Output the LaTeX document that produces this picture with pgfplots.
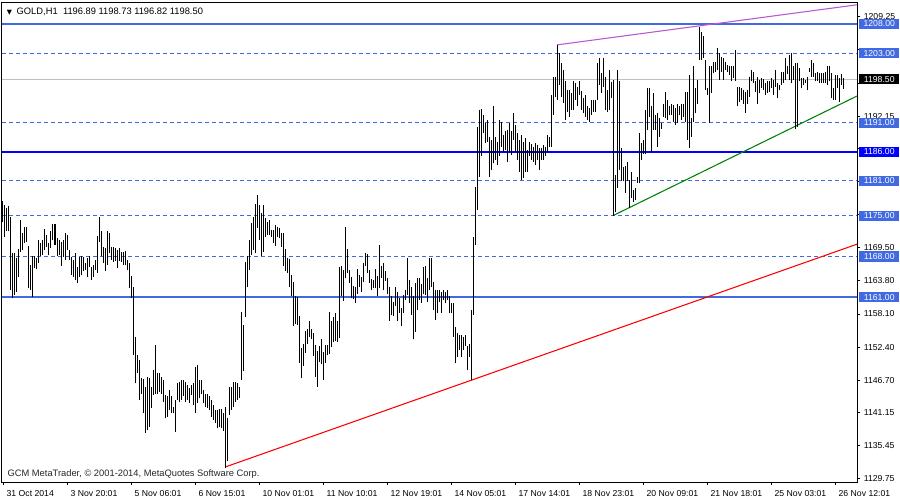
\documentclass[border=0pt]{standalone}
\usepackage{pgfplots}
\usepackage{pgfplotstable}
\usepackage{fontspec}
\pgfplotsset{compat=1.18}
\setmainfont{Liberation Sans}
\newfontfamily\dejavu{DejaVu Sans}

\definecolor{mtblue}{RGB}{65,105,225}
\definecolor{mtpure}{RGB}{0,0,255}
\definecolor{mtsilver}{RGB}{192,192,192}
\definecolor{mtgreen}{RGB}{0,128,0}
\definecolor{mtviolet}{RGB}{186,85,211}

% hourly bars: index, high, low
\pgfplotstableread{
i hi lo
0 1177.6 1174.0
1 1176.85 1171.4
2 1176.3 1172.4
3 1176.7 1172.3
4 1174.8 1162.2
5 1168.5 1160.8
6 1168.6 1161.4
7 1167.7 1161.9
8 1169.2 1164.5
9 1174.3 1168.8
10 1172.0 1169.1
11 1173.1 1170.3
12 1173.1 1170.5
13 1169.8 1162.5
14 1166.5 1162.2
15 1168.1 1161.0
16 1168.0 1166.0
17 1167.7 1165.8
18 1170.8 1166.8
19 1170.3 1168.0
20 1170.8 1168.2
21 1172.7 1169.1
22 1171.7 1169.7
23 1170.3 1168.2
24 1172.3 1169.4
25 1173.5 1170.8
26 1173.5 1170.0
27 1171.1 1168.0
28 1170.9 1168.2
29 1170.5 1166.4
30 1170.8 1167.9
31 1172.1 1167.4
32 1171.7 1169.1
33 1169.1 1167.4
34 1167.9 1164.8
35 1167.4 1164.5
36 1168.5 1163.9
37 1166.2 1163.4
38 1167.9 1164.5
39 1168.0 1164.8
40 1167.9 1165.4
41 1166.9 1165.7
42 1167.7 1164.5
43 1168.0 1166.2
44 1166.2 1163.9
45 1166.5 1164.5
46 1167.4 1165.7
47 1171.5 1165.1
48 1174.8 1170.5
49 1172.3 1168.0
50 1169.7 1166.8
51 1169.4 1165.5
52 1172.3 1166.5
53 1172.1 1168.5
54 1169.7 1167.4
55 1169.7 1167.1
56 1169.4 1167.2
57 1169.1 1166.0
58 1169.4 1167.2
59 1168.8 1167.1
60 1168.8 1166.5
61 1169.0 1166.5
62 1167.4 1165.7
63 1166.8 1162.5
64 1164.6 1160.8
65 1162.8 1151.0
66 1154.2 1146.15
67 1151.0 1147.9
68 1150.2 1143.3
69 1147.0 1144.4
70 1146.9 1141.0
71 1145.6 1137.55
72 1147.3 1138.1
73 1147.0 1138.7
74 1145.6 1141.85
75 1148.45 1144.15
76 1152.75 1144.4
77 1147.9 1144.4
78 1147.9 1144.7
79 1147.3 1144.4
80 1146.7 1143.0
81 1144.15 1140.1
82 1144.0 1140.4
83 1145.0 1141.55
84 1143.9 1141.0
85 1142.1 1141.0
86 1143.3 1137.8
87 1146.15 1143.3
88 1146.4 1143.0
89 1146.7 1143.3
90 1146.7 1143.9
91 1146.4 1143.0
92 1145.9 1143.3
93 1145.3 1142.7
94 1145.9 1144.15
95 1146.15 1142.4
96 1149.0 1141.0
97 1149.3 1142.7
98 1146.7 1143.6
99 1146.7 1144.4
100 1145.0 1142.7
101 1144.4 1142.1
102 1144.4 1141.85
103 1143.9 1141.55
104 1143.3 1140.4
105 1142.4 1139.85
106 1141.55 1139.3
107 1141.55 1138.4
108 1141.7 1138.7
109 1141.7 1138.4
110 1141.0 1138.0
111 1142.0 1131.6
112 1140.2 1132.7
113 1145.6 1140.7
114 1145.6 1141.55
115 1146.4 1142.1
116 1146.4 1143.0
117 1146.15 1143.3
118 1145.6 1143.6
119 1158.5 1146.7
120 1156.2 1148.2
121 1167.1 1157.6
122 1168.0 1162.8
123 1170.8 1165.7
124 1173.7 1168.2
125 1174.8 1169.1
126 1177.1 1168.5
127 1178.6 1172.8
128 1176.85 1170.8
129 1175.4 1168.0
130 1176.85 1168.8
131 1174.6 1171.4
132 1174.0 1171.7
133 1174.3 1171.7
134 1172.5 1171.4
135 1172.5 1170.25
136 1173.4 1169.8
137 1173.1 1171.4
138 1172.8 1171.1
139 1172.0 1169.7
140 1172.0 1166.35
141 1169.2 1165.4
142 1167.7 1165.2
143 1167.55 1162.8
144 1164.8 1161.2
145 1163.65 1156.0
146 1161.2 1156.4
147 1160.95 1156.2
148 1157.75 1149.7
149 1152.2 1147.0
150 1152.9 1149.2
151 1155.2 1151.3
152 1155.5 1153.0
153 1156.9 1154.1
154 1155.45 1153.7
155 1154.75 1150.85
156 1152.75 1147.2
157 1151.8 1145.6
158 1152.5 1149.9
159 1153.7 1149.4
160 1151.6 1146.8
161 1152.75 1149.6
162 1152.75 1151.0
163 1158.5 1151.2
164 1156.95 1152.35
165 1157.5 1153.3
166 1158.3 1153.4
167 1156.8 1153.3
168 1166.1 1153.9
169 1166.35 1161.1
170 1165.65 1160.4
171 1173.1 1164.2
172 1169.3 1165.2
173 1165.65 1163.4
174 1164.5 1160.8
175 1162.9 1160.6
176 1162.8 1159.9
177 1165.9 1161.6
178 1164.8 1162.7
179 1164.5 1161.9
180 1166.9 1163.65
181 1168.6 1166.35
182 1168.4 1165.2
183 1165.65 1163.5
184 1164.05 1162.3
185 1163.9 1162.5
186 1165.8 1162.5
187 1164.6 1161.1
188 1169.95 1162.5
189 1166.35 1164.2
190 1166.9 1162.2
191 1165.55 1163.8
192 1164.2 1161.6
193 1162.7 1156.9
194 1161.2 1157.9
195 1160.2 1157.7
196 1162.8 1159.5
197 1161.9 1156.8
198 1160.8 1158.3
199 1159.1 1156.0
200 1161.4 1158.2
201 1162.2 1160.5
202 1167.8 1161.4
203 1163.9 1160.0
204 1162.8 1157.9
205 1161.1 1153.7
206 1163.4 1155.0
207 1164.2 1158.8
208 1164.2 1160.5
209 1163.25 1160.0
210 1166.2 1161.6
211 1166.35 1161.4
212 1164.2 1160.2
213 1167.7 1162.2
214 1167.7 1162.8
215 1163.65 1158.8
216 1162.3 1157.05
217 1162.2 1158.2
218 1162.3 1160.2
219 1161.9 1158.2
220 1162.2 1160.5
221 1161.8 1159.9
222 1162.2 1160.5
223 1161.1 1158.2
224 1160.0 1158.2
225 1160.0 1154.2
226 1155.9 1149.6
227 1154.8 1150.7
228 1154.5 1151.9
229 1154.5 1150.7
230 1154.2 1151.9
231 1154.5 1152.5
232 1152.5 1148.45
233 1153.0 1150.7
234 1158.8 1146.7
235 1171.4 1157.9
236 1180.0 1170.0
237 1190.3 1176.0
238 1193.2 1181.7
239 1193.3 1185.2
240 1192.3 1189.2
241 1190.9 1187.5
242 1191.5 1187.75
243 1188.6 1181.7
244 1188.0 1182.9
245 1193.8 1184.0
246 1188.6 1184.6
247 1187.75 1183.7
248 1191.5 1185.2
249 1191.2 1186.9
250 1188.9 1186.0
251 1189.5 1186.3
252 1189.75 1184.3
253 1190.9 1186.0
254 1189.5 1185.45
255 1192.6 1188.0
256 1190.6 1186.0
257 1189.2 1184.6
258 1188.0 1182.6
259 1188.9 1181.15
260 1187.75 1181.45
261 1188.3 1182.6
262 1186.3 1182.6
263 1187.75 1185.2
264 1187.35 1184.6
265 1186.9 1184.3
266 1187.5 1183.7
267 1187.2 1184.6
268 1186.6 1182.9
269 1186.6 1184.6
270 1187.2 1184.6
271 1186.9 1185.2
272 1188.9 1186.0
273 1188.6 1186.9
274 1195.8 1186.9
275 1198.9 1192.3
276 1198.9 1195.5
277 1204.4 1194.9
278 1203.0 1197.5
279 1201.2 1195.5
280 1200.1 1194.35
281 1198.1 1191.5
282 1196.6 1192.9
283 1196.6 1192.05
284 1196.1 1193.2
285 1198.1 1193.2
286 1197.8 1194.9
287 1197.2 1193.8
288 1198.1 1195.8
289 1196.4 1193.2
290 1195.2 1192.6
291 1195.8 1192.05
292 1193.8 1191.5
293 1193.5 1191.2
294 1194.9 1192.3
295 1194.9 1192.9
296 1194.9 1192.9
297 1201.2 1194.9
298 1202.1 1197.5
299 1199.5 1196.1
300 1202.1 1197.2
301 1198.9 1193.2
302 1196.6 1192.9
303 1200.1 1193.2
304 1198.0 1195.2
305 1198.4 1174.95
306 1182.0 1175.7
307 1200.1 1179.7
308 1198.2 1182.9
309 1186.6 1180.9
310 1183.4 1180.9
311 1183.6 1178.85
312 1184.3 1180.9
313 1181.15 1176.3
314 1182.6 1178.0
315 1179.4 1177.4
316 1179.7 1177.7
317 1181.7 1180.6
318 1189.2 1180.6
319 1187.5 1184.6
320 1188.0 1185.7
321 1193.2 1185.7
322 1196.9 1189.75
323 1196.9 1192.05
324 1193.8 1186.0
325 1196.1 1189.75
326 1192.3 1189.75
327 1192.6 1186.9
328 1191.8 1188.6
329 1190.9 1190.0
330 1194.3 1192.05
331 1196.35 1191.8
332 1194.9 1191.5
333 1193.8 1192.3
334 1194.3 1192.3
335 1194.1 1191.2
336 1193.5 1190.6
337 1194.3 1190.9
338 1193.8 1192.3
339 1194.3 1191.5
340 1194.3 1192.05
341 1196.35 1191.2
342 1196.35 1188.0
343 1199.2 1186.6
344 1191.8 1188.6
345 1200.7 1191.2
346 1196.9 1192.6
347 1198.4 1194.3
348 1207.5 1201.8
349 1206.7 1201.8
350 1205.9 1202.1
351 1201.8 1196.6
352 1196.9 1195.8
353 1200.7 1191.0
354 1200.7 1196.1
355 1201.5 1199.5
356 1201.5 1199.8
357 1203.8 1200.1
358 1203.0 1198.4
359 1202.4 1199.8
360 1202.1 1198.4
361 1201.5 1200.1
362 1200.9 1199.8
363 1200.7 1199.2
364 1200.7 1198.1
365 1200.7 1198.65
366 1203.5 1198.1
367 1197.2 1193.8
368 1197.2 1194.6
369 1196.9 1194.9
370 1196.6 1194.3
371 1196.35 1192.6
372 1196.6 1194.3
373 1198.9 1195.5
374 1200.1 1198.1
375 1199.8 1197.8
376 1198.1 1196.35
377 1198.9 1194.3
378 1198.4 1196.1
379 1198.65 1196.9
380 1198.5 1196.6
381 1197.9 1195.8
382 1198.1 1196.1
383 1198.1 1196.35
384 1198.65 1196.9
385 1198.4 1195.8
386 1200.1 1197.2
387 1197.8 1195.2
388 1197.5 1196.6
389 1199.8 1197.5
390 1199.8 1197.8
391 1202.1 1198.4
392 1200.7 1199.4
393 1202.7 1198.4
394 1203.0 1197.8
395 1200.8 1198.4
396 1201.2 1190.0
397 1201.2 1190.3
398 1200.4 1198.1
399 1198.65 1196.9
400 1198.65 1197.5
401 1198.4 1197.8
402 1198.9 1196.6
403 1200.4 1199.8
404 1201.8 1198.9
405 1201.2 1198.9
406 1199.5 1198.1
407 1199.8 1198.1
408 1199.5 1197.8
409 1199.5 1197.8
410 1199.5 1197.8
411 1199.8 1197.8
412 1200.7 1197.5
413 1200.8 1198.1
414 1199.5 1195.2
415 1196.9 1194.9
416 1199.2 1194.9
417 1199.2 1196.9
418 1198.65 1194.6
419 1199.4 1197.5
420 1198.73 1196.82
}\bars

\begin{document}
\begin{tikzpicture}
\useasboundingbox (-1.5pt,-13.5pt) rectangle (673.5pt,361.5pt);
\begin{axis}[
    scale only axis,
    width=641.25pt, height=359.25pt,
    xmin=-0.5, xmax=427,
    ymin=1129.17, ymax=1211.61,
    axis line style={black, line width=0.75pt},
    tick style={black, line width=0.6pt},
    tick align=outside,
    major tick length=2.6pt,
    xtick pos=bottom,
    ytick pos=right,
    yticklabel pos=right,
    xtick={0,32,...,416},
    xticklabels={31 Oct 2014, 3 Nov 20:01, 5 Nov 06:01, 6 Nov 15:01, 10 Nov 01:01, 11 Nov 10:01, 12 Nov 19:01, 14 Nov 05:01, 17 Nov 14:01, 18 Nov 23:01, 20 Nov 09:01, 21 Nov 18:01, 25 Nov 03:01, 26 Nov 12:01},
    xticklabel style={anchor=north west, xshift=-0.8pt, font=\fontsize{6.5}{7}\selectfont},
    ytick={1129.75,1135.45,1141.15,1146.70,1152.40,1158.10,1163.80,1169.50,1175.20,1180.90,1186.60,1192.15,1197.85,1203.55,1209.25},
    % labels hidden behind the price boxes are left empty
    yticklabels={1129.75,1135.45,1141.15,1146.70,1152.40,1158.10,1163.80,1169.50,{},{},{},1192.15,{},{},1209.25},
    yticklabel style={anchor=west, xshift=-1pt, font=\fontsize{6.5}{7}\selectfont},
    hline/.style={line width=0.8pt, mark=none},
    sline/.style={line width=1.1pt, mark=none},
    dline/.style={line width=0.75pt, mark=none, mtblue, dash pattern=on 3pt off 2.25pt},
]
% price levels
\addplot[hline, mtsilver] coordinates {(-0.5,1198.5) (427,1198.5)};
\addplot[sline, mtblue] coordinates {(-0.5,1208) (427,1208)};
\addplot[sline, mtblue] coordinates {(-0.5,1161) (427,1161)};
\addplot[sline, mtpure] coordinates {(-0.5,1186) (427,1186)};
\addplot[dline] coordinates {(-0.5,1203) (427,1203)};
\addplot[dline] coordinates {(-0.5,1191) (427,1191)};
\addplot[dline] coordinates {(-0.5,1181) (427,1181)};
\addplot[dline] coordinates {(-0.5,1175) (427,1175)};
\addplot[dline] coordinates {(-0.5,1168) (427,1168)};
% trend lines
\addplot[hline, red] coordinates {(111.5,1131.8) (427,1170.1)};
\addplot[hline, mtgreen] coordinates {(305.5,1175.1) (427,1195.6)};
\addplot[hline, mtviolet] coordinates {(277,1204.4) (427,1211.3)};
% bars (high-low)
\addplot[draw=none, mark=none,
    error bars/.cd, y dir=plus, y explicit, error mark=none,
    error bar style={draw=black, line width=0.75pt}]
  table[x=i, y=lo, y error expr=\thisrow{hi}-\thisrow{lo}] {\bars};

\node[anchor=west, font=\fontsize{7}{8}\selectfont, inner sep=0pt]
  at (rel axis cs:0,1) [xshift=3.5pt, yshift=-6.3pt]
  {{\dejavu\fontsize{5}{6}\selectfont ▼}\hspace{3.5pt}GOLD,H1\hspace{4pt}1196.89 1198.73 1196.82 1198.50};
\node[anchor=south west, font=\fontsize{7}{8}\selectfont, inner sep=0pt, text=black!85]
  at (rel axis cs:0,0) [xshift=4pt, yshift=2.3pt]
  {GCM MetaTrader, © 2001-2014, MetaQuotes Software Corp.};

\coordinate (p1208) at (axis cs:427,1208);
\coordinate (p1203) at (axis cs:427,1203);
\coordinate (p1198) at (axis cs:427,1198.5);
\coordinate (p1191) at (axis cs:427,1191);
\coordinate (p1186) at (axis cs:427,1186);
\coordinate (p1181) at (axis cs:427,1181);
\coordinate (p1175) at (axis cs:427,1175);
\coordinate (p1168) at (axis cs:427,1168);
\coordinate (p1161) at (axis cs:427,1161);
\end{axis}
\tikzset{pbox/.style={anchor=west, xshift=1.5pt, inner sep=0pt, minimum width=30pt,
  minimum height=7.8pt, text=white, font=\fontsize{6.5}{7}\selectfont}}
\node[pbox, fill=mtblue] at (p1208) {1208.00};
\node[pbox, fill=mtblue] at (p1203) {1203.00};
\node[pbox, fill=black] at (p1198) {1198.50};
\node[pbox, fill=mtblue] at (p1191) {1191.00};
\node[pbox, fill=mtpure] at (p1186) {1186.00};
\node[pbox, fill=mtblue] at (p1181) {1181.00};
\node[pbox, fill=mtblue] at (p1175) {1175.00};
\node[pbox, fill=mtblue] at (p1168) {1168.00};
\node[pbox, fill=mtblue] at (p1161) {1161.00};
\end{tikzpicture}
\end{document}
